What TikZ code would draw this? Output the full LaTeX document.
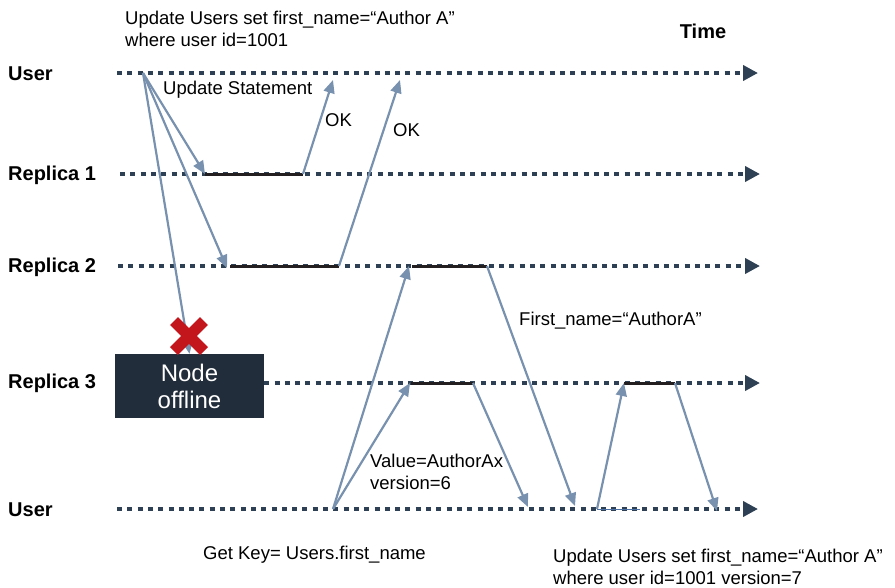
\documentclass[tikz,border=0pt]{standalone}
\usepackage{fontspec}
\setmainfont{Liberation Sans}
\usepackage{tikz}
\usetikzlibrary{positioning}
\usetikzlibrary{arrows.meta}
\definecolor{slate}{HTML}{2E4154}
\definecolor{msgblue}{HTML}{7891AE}
\definecolor{busyblack}{HTML}{231F20}
\definecolor{boxnavy}{HTML}{212D3B}
\definecolor{crossred}{HTML}{C3161C}
\definecolor{thinblue}{HTML}{4A6FA5}

\begin{document}
\begin{tikzpicture} [x = 1pt, y = -1pt,
    timeline/.style = {draw = slate, line width = 4.5pt, dash pattern = on 5pt off 5.3pt, -{Triangle[length = 15pt, width = 15pt]}},
    msg/.style = {draw = msgblue, line width = 2.2pt, -{Triangle[length = 13pt, width = 11pt]}},
    busy/.style = {draw = busyblack, line width = 3pt},
    lane/.style = {font = \fontsize{20}{24}\selectfont\bfseries, anchor = west, inner sep = 0pt},
    note/.style = {font = \fontsize{18.5}{22}\selectfont, anchor = west, align = left, inner sep = 0pt}]
    \useasboundingbox (0,0) rectangle (895,587);
    \node [lane] (user) at (8,74) {User};
    \node [lane] (rep1) at (8,175) {Replica 1};
    \node [lane] (rep2) at (8,267) {Replica 2};
    \node [lane] (rep3) at (8,383) {Replica 3};
    \node [lane] (userb) at (8,510) {User};
    \node [font = \fontsize{20}{24}\selectfont\bfseries, inner sep = 0pt] (time) at (703,31) {Time};
    \node [fill = boxnavy, text = white, minimum width = 149pt, minimum height = 64pt, align = center, inner sep = 0pt,
      font = \fontsize{24}{27}\selectfont] (offline) at (189.5,386) {Node\\offline};
    \draw [timeline] (117,73) -- (758,73);
    \draw [timeline] (120,174) -- (760,174);
    \draw [timeline] (118,266) -- (760,266);
    \draw [timeline] (offline.east |- 0,383) -- (760,383);
    \draw [timeline] (117,509) -- (758,509);
    \coordinate (ustart) at (143,73);
    \coordinate (r1in) at (205,174);
    \coordinate (r1out) at (303,174);
    \coordinate (r2in) at (227,268);
    \coordinate (r2out) at (339,266);
    \coordinate (ok1) at (333,80);
    \coordinate (ok2) at (400,80);
    \coordinate (getstart) at (333,509);
    \coordinate (r2get) at (409,266);
    \coordinate (r3get) at (410,383);
    \coordinate (r2reply) at (487,266);
    \coordinate (r3reply) at (473,383);
    \coordinate (ureply2) at (575,506);
    \coordinate (ureply3) at (528,507);
    \coordinate (setstart) at (597,509);
    \coordinate (r3set) at (624,383);
    \coordinate (r3ack) at (675,383);
    \coordinate (uack) at (717,511);
    \draw [busy] (r1in) -- (r1out);
    \draw [busy] (230,266) -- (r2out);
    \draw [busy] (412,266) -- (r2reply);
    \draw [busy] (411,383) -- (r3reply);
    \draw [busy] (r3set) -- (r3ack);
    \draw [thinblue, line width = 1pt] (setstart) -- (640,509);
    \draw [msg] (ustart) -- (r1in);
    \draw [msg] (ustart) -- (r2in);
    \draw [msg] (ustart) -- (offline.north);
    \draw [msg] (r1out) -- (ok1);
    \draw [msg] (r2out) -- (ok2);
    \draw [msg] (getstart) -- (r2get);
    \draw [msg] (getstart) -- (r3get);
    \draw [msg] (r3reply) -- (ureply3);
    \draw [msg] (r2reply) -- (ureply2);
    \draw [msg] (setstart) -- (r3set);
    \draw [msg] (r3ack) -- (uack);
    \coordinate (cross) at (189,336);
    \draw [crossred, line width = 11pt] ([shift = {(-15,-15)}]cross) -- ([shift = {(15,15)}]cross)
      ([shift = {(-15,15)}]cross) -- ([shift = {(15,-15)}]cross);
    \node [note] (upd) at (125,29) {Update Users set first\_name=“Author A”\\where user id=1001};
    \node [note] (stmt) at (163,90) {Update Statement};
    \node [note] (oktxt1) at (325,120) {OK};
    \node [note] (oktxt2) at (393,130) {OK};
    \node [note] (fname) at (519,321) {First\_name=“AuthorA”};
    \node [note] (value) at (370,472) {Value=AuthorAx\\version=6};
    \node [note] (getkey) at (203,555) {Get Key= Users.first\_name};
    \node [note] (upd2) at (553,567) {Update Users set first\_name=“Author A”\\where user id=1001 version=7};
  \end{tikzpicture}
\end{document}
